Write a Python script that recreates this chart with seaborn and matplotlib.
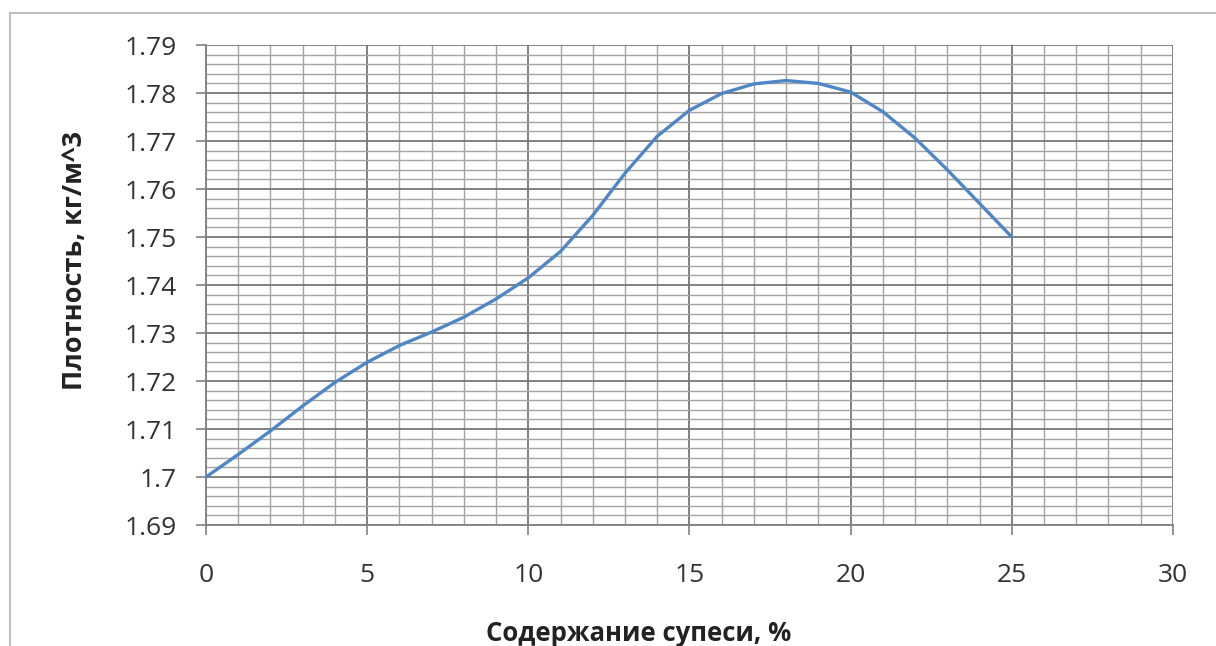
import pandas as pd
import seaborn as sns
import matplotlib.pyplot as plt
import matplotlib.ticker as mticker
from matplotlib.patches import Rectangle

sns.set_style('ticks')
plt.rcParams['font.family'] = ['Open Sans', 'DejaVu Sans']

### Data (every 1 %)
content = [0, 1, 2, 3, 4, 5, 6, 7, 8, 9, 10, 11, 12, 13, 14, 15, 16, 17, 18, 19, 20, 21, 22, 23, 24, 25]
density = [1.700, 1.7047, 1.7096, 1.7148, 1.7197, 1.7239, 1.7274, 1.7302, 1.7333, 1.7371,
           1.7415, 1.7470, 1.7545, 1.7633, 1.7710, 1.7764, 1.7799, 1.7819, 1.7826, 1.7820,
           1.7802, 1.7761, 1.7706, 1.7640, 1.7570, 1.7500]
x_ticks = [0, 5, 10, 15, 20, 25, 30]
y_ticks = [1.69, 1.70, 1.71, 1.72, 1.73, 1.74, 1.75, 1.76, 1.77, 1.78, 1.79]
y_tick_labels = ['1.69', '1.7', '1.71', '1.72', '1.73', '1.74', '1.75', '1.76', '1.77', '1.78', '1.79']

dataset = pd.DataFrame({'content': content, 'density': density})

fig = plt.figure(figsize=(12.16, 6.46), dpi=100)
ax = fig.add_axes([0.1694, 0.1873, 0.7952, 0.7430])

### Outer chart frame (top and left edges visible)
fig.patches.append(Rectangle((10 / 1216, -0.1), 1.2, (1 - 13 / 646) + 0.1,
                             transform=fig.transFigure, fill=False,
                             edgecolor='#bfbfbf', linewidth=1.5))

line = sns.lineplot(data=dataset, x='content', y='density', color='#4f86c6',
                    linewidth=2.4, ax=ax, zorder=5)
for l in ax.lines:
    l.set_solid_joinstyle('round')
    l.set_solid_capstyle('round')

ax.set_xlim(0, 30)
ax.set_ylim(1.69, 1.79)
ax.set_xticks(x_ticks)
ax.set_xticklabels([str(t) for t in x_ticks])
ax.set_yticks(y_ticks)
ax.set_yticklabels(y_tick_labels)
ax.xaxis.set_minor_locator(mticker.MultipleLocator(1))
ax.yaxis.set_minor_locator(mticker.MultipleLocator(0.002))

ax.grid(which='major', color='#777777', linewidth=1.3)
ax.grid(which='minor', color='#a3a3a3', linewidth=1.0)
ax.set_axisbelow(True)

for m in ['top', 'right']:
    ax.spines[m].set_visible(False)
for m in ['left', 'bottom']:
    ax.spines[m].set_color('#808080')
    ax.spines[m].set_linewidth(1.3)

ax.tick_params(which='major', length=7, width=1.2, color='#808080',
               labelsize=19, labelcolor='#333333')
ax.tick_params(which='minor', length=0)
ax.tick_params(axis='y', pad=14)
ax.tick_params(axis='x', pad=20)

ax.set_xlabel('')
ax.set_ylabel('')
fig.text(0.525, 0.020, 'Содержание супеси, %', ha='center', va='center',
         fontsize=18.5, fontweight='bold', color='#222222')
fig.text(0.062, 0.597, 'Плотность, кг/м^3', ha='center', va='center',
         rotation=90, fontsize=19.5, fontweight='bold', color='#222222')

fig.savefig('out.png', dpi=100)
